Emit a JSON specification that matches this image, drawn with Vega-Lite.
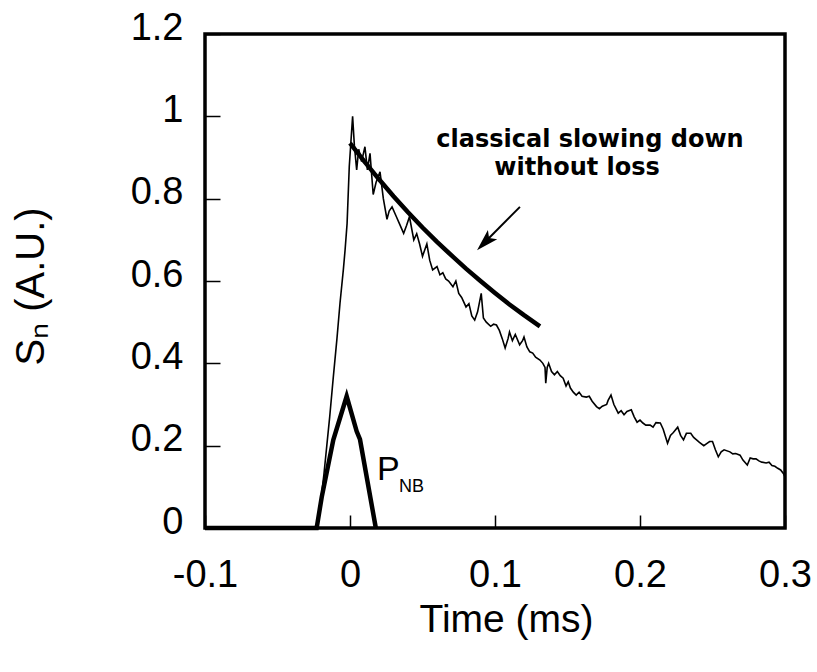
{
  "$schema": "https://vega.github.io/schema/vega-lite/v6.json",
  "autosize": {"type": "none"},
  "padding": {"left": 205, "top": 34, "right": 32, "bottom": 144},
  "width": 580,
  "height": 494,
  "background": "white",
  "config": {
    "view": {"stroke": "black", "strokeWidth": 3.5},
    "axis": {"domain": false, "grid": false, "labelColor": "black", "titleColor": "black", "labelFont": "Liberation Sans", "titleFont": "Liberation Sans"}
  },
  "datasets": {
    "signal": [
      {"t": -0.1, "v": 0.0}, {"t": -0.05, "v": 0.0}, {"t": -0.03, "v": 0.002}, {"t": -0.024, "v": 0.003},
      {"t": -0.022, "v": 0.015}, {"t": -0.02, "v": 0.07}, {"t": -0.018, "v": 0.13}, {"t": -0.016, "v": 0.2},
      {"t": -0.014, "v": 0.27}, {"t": -0.0115, "v": 0.367}, {"t": -0.009, "v": 0.46}, {"t": -0.0069, "v": 0.546},
      {"t": -0.0046, "v": 0.627}, {"t": -0.0034, "v": 0.675}, {"t": -0.002, "v": 0.74}, {"t": -0.0005, "v": 0.878},
      {"t": 0.0018, "v": 1.0}, {"t": 0.003, "v": 0.93}, {"t": 0.0046, "v": 0.87}, {"t": 0.006, "v": 0.92},
      {"t": 0.008, "v": 0.89}, {"t": 0.0103, "v": 0.926}, {"t": 0.012, "v": 0.87}, {"t": 0.0138, "v": 0.91},
      {"t": 0.016, "v": 0.81}, {"t": 0.018, "v": 0.84}, {"t": 0.0207, "v": 0.865}, {"t": 0.023, "v": 0.8},
      {"t": 0.0255, "v": 0.75}, {"t": 0.027, "v": 0.77}, {"t": 0.029, "v": 0.78}, {"t": 0.032, "v": 0.756},
      {"t": 0.034, "v": 0.74}, {"t": 0.037, "v": 0.716}, {"t": 0.039, "v": 0.735}, {"t": 0.041, "v": 0.756},
      {"t": 0.044, "v": 0.7}, {"t": 0.046, "v": 0.715}, {"t": 0.048, "v": 0.69}, {"t": 0.05, "v": 0.66},
      {"t": 0.053, "v": 0.69}, {"t": 0.055, "v": 0.65}, {"t": 0.057, "v": 0.627}, {"t": 0.06, "v": 0.635},
      {"t": 0.062, "v": 0.615}, {"t": 0.064, "v": 0.62}, {"t": 0.066, "v": 0.605}, {"t": 0.068, "v": 0.6},
      {"t": 0.071, "v": 0.586}, {"t": 0.073, "v": 0.6}, {"t": 0.075, "v": 0.57}, {"t": 0.077, "v": 0.56},
      {"t": 0.08, "v": 0.537}, {"t": 0.082, "v": 0.545}, {"t": 0.084, "v": 0.515}, {"t": 0.086, "v": 0.505},
      {"t": 0.088, "v": 0.525}, {"t": 0.0905, "v": 0.57}, {"t": 0.092, "v": 0.51}, {"t": 0.094, "v": 0.5},
      {"t": 0.097, "v": 0.49}, {"t": 0.099, "v": 0.495}, {"t": 0.101, "v": 0.493}, {"t": 0.103, "v": 0.48},
      {"t": 0.105, "v": 0.46}, {"t": 0.107, "v": 0.437}, {"t": 0.109, "v": 0.46}, {"t": 0.11, "v": 0.476},
      {"t": 0.112, "v": 0.455}, {"t": 0.114, "v": 0.47}, {"t": 0.117, "v": 0.445}, {"t": 0.119, "v": 0.455},
      {"t": 0.12, "v": 0.464}, {"t": 0.122, "v": 0.44}, {"t": 0.124, "v": 0.428}, {"t": 0.126, "v": 0.425},
      {"t": 0.128, "v": 0.415}, {"t": 0.131, "v": 0.408}, {"t": 0.133, "v": 0.4}, {"t": 0.1345, "v": 0.39},
      {"t": 0.135, "v": 0.352}, {"t": 0.136, "v": 0.39}, {"t": 0.137, "v": 0.4}, {"t": 0.139, "v": 0.38},
      {"t": 0.141, "v": 0.372}, {"t": 0.143, "v": 0.38}, {"t": 0.145, "v": 0.37}, {"t": 0.147, "v": 0.364},
      {"t": 0.149, "v": 0.345}, {"t": 0.1505, "v": 0.355}, {"t": 0.152, "v": 0.34}, {"t": 0.154, "v": 0.33},
      {"t": 0.156, "v": 0.323}, {"t": 0.158, "v": 0.33}, {"t": 0.16, "v": 0.32}, {"t": 0.163, "v": 0.318},
      {"t": 0.165, "v": 0.32}, {"t": 0.167, "v": 0.308}, {"t": 0.17, "v": 0.295}, {"t": 0.172, "v": 0.29},
      {"t": 0.174, "v": 0.296}, {"t": 0.177, "v": 0.3}, {"t": 0.178, "v": 0.31}, {"t": 0.18, "v": 0.323},
      {"t": 0.182, "v": 0.3}, {"t": 0.185, "v": 0.279}, {"t": 0.187, "v": 0.285}, {"t": 0.189, "v": 0.275},
      {"t": 0.191, "v": 0.283}, {"t": 0.194, "v": 0.287}, {"t": 0.196, "v": 0.27}, {"t": 0.198, "v": 0.257},
      {"t": 0.2, "v": 0.262}, {"t": 0.202, "v": 0.255}, {"t": 0.204, "v": 0.25}, {"t": 0.207, "v": 0.25},
      {"t": 0.209, "v": 0.245}, {"t": 0.211, "v": 0.256}, {"t": 0.214, "v": 0.255}, {"t": 0.216, "v": 0.24},
      {"t": 0.219, "v": 0.206}, {"t": 0.221, "v": 0.225}, {"t": 0.223, "v": 0.232}, {"t": 0.226, "v": 0.245},
      {"t": 0.228, "v": 0.225}, {"t": 0.23, "v": 0.214}, {"t": 0.232, "v": 0.23}, {"t": 0.235, "v": 0.23},
      {"t": 0.237, "v": 0.22}, {"t": 0.239, "v": 0.214}, {"t": 0.241, "v": 0.208}, {"t": 0.244, "v": 0.2},
      {"t": 0.246, "v": 0.205}, {"t": 0.248, "v": 0.21}, {"t": 0.25, "v": 0.21}, {"t": 0.252, "v": 0.19},
      {"t": 0.254, "v": 0.173}, {"t": 0.256, "v": 0.185}, {"t": 0.258, "v": 0.19}, {"t": 0.262, "v": 0.185},
      {"t": 0.264, "v": 0.18}, {"t": 0.266, "v": 0.181}, {"t": 0.269, "v": 0.177}, {"t": 0.271, "v": 0.165},
      {"t": 0.274, "v": 0.153}, {"t": 0.276, "v": 0.17}, {"t": 0.278, "v": 0.168}, {"t": 0.28, "v": 0.168},
      {"t": 0.282, "v": 0.163}, {"t": 0.284, "v": 0.16}, {"t": 0.287, "v": 0.158}, {"t": 0.289, "v": 0.16},
      {"t": 0.291, "v": 0.152}, {"t": 0.293, "v": 0.15}, {"t": 0.295, "v": 0.145}, {"t": 0.297, "v": 0.141},
      {"t": 0.299, "v": 0.132}, {"t": 0.3, "v": 0.124}
    ],
    "fit": [
      {"t": 0.0, "v": 0.935}, {"t": 0.01, "v": 0.89}, {"t": 0.02, "v": 0.847}, {"t": 0.03, "v": 0.806},
      {"t": 0.04, "v": 0.767}, {"t": 0.05, "v": 0.73}, {"t": 0.06, "v": 0.695}, {"t": 0.07, "v": 0.662},
      {"t": 0.08, "v": 0.63}, {"t": 0.09, "v": 0.6}, {"t": 0.1, "v": 0.571}, {"t": 0.11, "v": 0.543},
      {"t": 0.12, "v": 0.517}, {"t": 0.131, "v": 0.49}
    ],
    "pnb": [
      {"t": -0.1, "v": 0.0}, {"t": -0.023, "v": 0.0}, {"t": -0.0195, "v": 0.075}, {"t": -0.0115, "v": 0.214},
      {"t": -0.0023, "v": 0.32}, {"t": 0.0046, "v": 0.235}, {"t": 0.0069, "v": 0.215}, {"t": 0.0178, "v": 0.0}
    ],
    "arrow": [
      {"t": 0.1172, "v": 0.78}, {"t": 0.0945, "v": 0.6995}
    ],
    "head": [
      {"t": 0.0876, "v": 0.675}
    ],
    "label1": [{"t": 0.1655, "v": 0.925, "text": "classical  slowing  down"}],
    "label2": [{"t": 0.1566, "v": 0.857, "text": "without  loss"}],
    "pP": [{"t": 0.0186, "v": 0.1166, "text": "P"}],
    "pNB": [{"t": 0.0338, "v": 0.0874, "text": "NB"}]
  },
  "layer": [
    {
      "data": {"name": "signal"},
      "mark": {"type": "line", "color": "black", "strokeWidth": 1.6, "clip": true},
      "encoding": {
        "x": {"field": "t", "type": "quantitative", "scale": {"domain": [-0.1, 0.3], "nice": false, "zero": false},
          "axis": {"orient": "bottom", "values": [-0.1, 0, 0.1, 0.2, 0.3], "ticks": true, "tickSize": -13, "tickColor": "black", "tickWidth": 1.5,
            "labelFontSize": 38, "labelPadding": 41, "labelFlush": false, "labelOverlap": false,
            "labelExpr": "datum.value < 0 ? '-' + format(-datum.value, '') : format(datum.value, '')",
            "title": "Time (ms)", "titleFontSize": 39, "titleFontWeight": "normal", "titleX": 301, "titleY": 103, "titleBaseline": "alphabetic"}},
        "y": {"field": "v", "type": "quantitative", "scale": {"domain": [0, 1.2], "nice": false, "zero": false},
          "axis": {"orient": "left", "values": [0, 0.2, 0.4, 0.6, 0.8, 1, 1.2], "ticks": true, "tickSize": -15, "tickColor": "black", "tickWidth": 1.5,
            "labelFontSize": 38, "labelPadding": 37, "labelOffset": -6, "labelFlush": false, "labelOverlap": false,
            "labelExpr": "format(datum.value, '')",
            "title": "Sₙ (A.U.)", "titleFontSize": 40, "titleFontWeight": "normal", "titleX": -162, "titleY": 252, "titleBaseline": "alphabetic", "titleAngle": 270}}
      }
    },
    {
      "data": {"name": "fit"},
      "mark": {"type": "line", "color": "black", "strokeWidth": 4.5},
      "encoding": {
        "x": {"field": "t", "type": "quantitative"},
        "y": {"field": "v", "type": "quantitative"}
      }
    },
    {
      "data": {"name": "pnb"},
      "mark": {"type": "line", "color": "black", "strokeWidth": 4.5},
      "encoding": {
        "x": {"field": "t", "type": "quantitative"},
        "y": {"field": "v", "type": "quantitative"}
      }
    },
    {
      "data": {"name": "arrow"},
      "mark": {"type": "line", "color": "black", "strokeWidth": 2},
      "encoding": {
        "x": {"field": "t", "type": "quantitative"},
        "y": {"field": "v", "type": "quantitative"}
      }
    },
    {
      "data": {"name": "head"},
      "mark": {"type": "point", "shape": "M0,0 L0.6,2 L0,1.55 L-0.6,2 Z", "filled": true, "size": 484, "angle": 225, "color": "black", "opacity": 1, "strokeWidth": 0},
      "encoding": {
        "x": {"field": "t", "type": "quantitative"},
        "y": {"field": "v", "type": "quantitative"}
      }
    },
    {
      "data": {"name": "label1"},
      "mark": {"type": "text", "font": "DejaVu Sans", "fontWeight": "bold", "fontSize": 24, "align": "center", "baseline": "alphabetic", "color": "black"},
      "encoding": {
        "x": {"field": "t", "type": "quantitative"},
        "y": {"field": "v", "type": "quantitative"},
        "text": {"field": "text"}
      }
    },
    {
      "data": {"name": "label2"},
      "mark": {"type": "text", "font": "DejaVu Sans", "fontWeight": "bold", "fontSize": 24, "align": "center", "baseline": "alphabetic", "color": "black"},
      "encoding": {
        "x": {"field": "t", "type": "quantitative"},
        "y": {"field": "v", "type": "quantitative"},
        "text": {"field": "text"}
      }
    },
    {
      "data": {"name": "pP"},
      "mark": {"type": "text", "font": "Liberation Sans", "fontSize": 34, "align": "left", "baseline": "alphabetic", "color": "black"},
      "encoding": {
        "x": {"field": "t", "type": "quantitative"},
        "y": {"field": "v", "type": "quantitative"},
        "text": {"field": "text"}
      }
    },
    {
      "data": {"name": "pNB"},
      "mark": {"type": "text", "font": "Liberation Sans", "fontSize": 18, "align": "left", "baseline": "alphabetic", "color": "black"},
      "encoding": {
        "x": {"field": "t", "type": "quantitative"},
        "y": {"field": "v", "type": "quantitative"},
        "text": {"field": "text"}
      }
    }
  ]
}
